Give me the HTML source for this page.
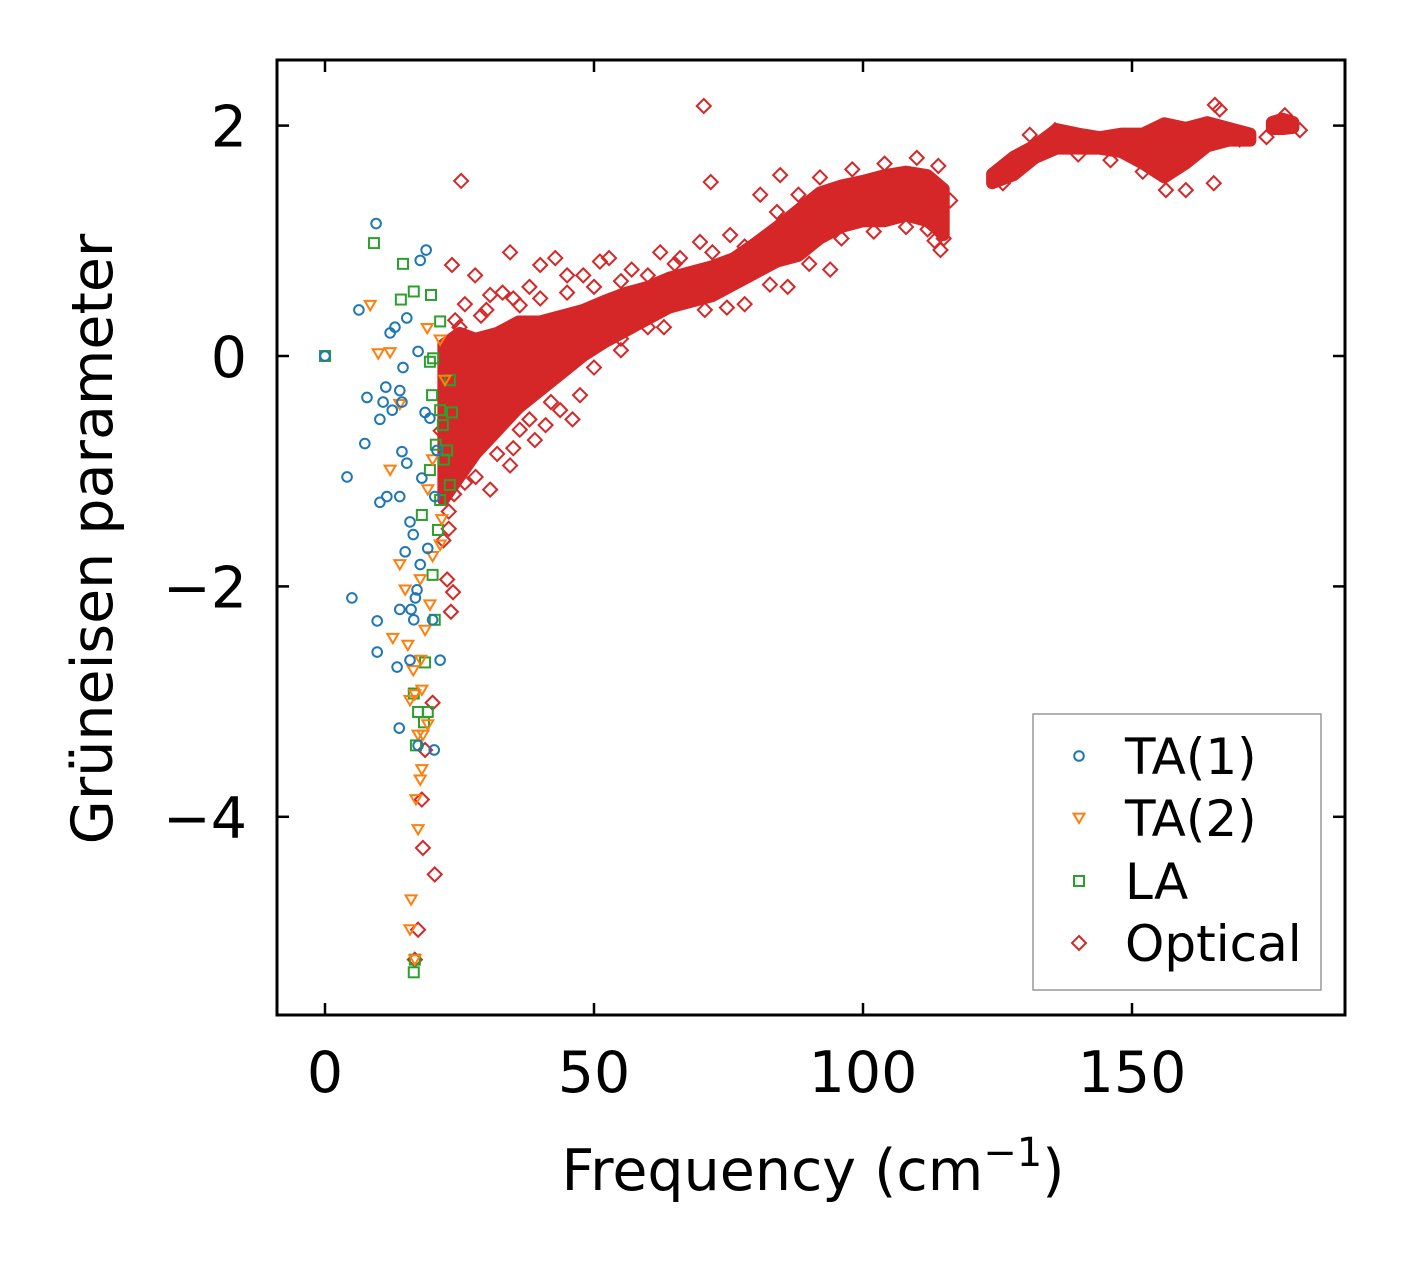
<!DOCTYPE html>
<html><head><meta charset="utf-8"><style>
body{margin:0;background:#fff;}
svg text{font-family:"DejaVu Sans","Liberation Sans",sans-serif;fill:#000;}
</style></head><body>
<svg id="chart" width="1406" height="1264" xmlns="http://www.w3.org/2000/svg">
<rect width="1406" height="1264" fill="#fff"/>
<g id="marks"></g>
<g id="axes"></g>
<text x="813" y="1190" font-size="57" text-anchor="middle">Frequency (cm<tspan font-size="40" dy="-24">−1</tspan><tspan dy="24">)</tspan></text>
<text transform="translate(112,539) rotate(-90)" font-size="57" text-anchor="middle">Grüneisen parameter</text>
<g>
<rect x="1033" y="714" width="288" height="276" fill="#fff" fill-opacity="0.8" stroke="#999" stroke-width="1.5"/>
<circle cx="1079" cy="756" r="4.8" fill="none" stroke="#1f77b4" stroke-width="2"/>
<text x="1125" y="774" font-size="50">TA(1)</text>
<path d="M1073.5,813.6L1084.5,813.6L1079,823Z" fill="none" stroke="#ff7f0e" stroke-width="2"/>
<text x="1125" y="836" font-size="50">TA(2)</text>
<rect x="1074" y="876" width="10" height="10" fill="none" stroke="#2ca02c" stroke-width="2"/>
<text x="1125" y="899" font-size="50">LA</text>
<path d="M1079,936L1086,943L1079,950L1072,943Z" fill="none" stroke="#d62728" stroke-width="2"/>
<text x="1125" y="961" font-size="50">Optical</text>
</g>
</svg>
<script>
const xTicks=[0,50,100,150];
const yTicks=[-4,-2,0,2];
const xTickLabels=["0","50","100","150"];
const yTickLabels=["\u22124","\u22122","0","2"];
const ta1=[[0,0],[6.3,0.4],[9.5,1.15],[7.8,-0.36],[7.4,-0.76],[4.1,-1.05],[5,-2.1],[9.7,-2.3],[9.7,-2.57],[10.2,-0.55],[10.8,-0.4],[11.3,-0.27],[10.2,-1.27],[11.5,-1.22],[12.1,0.2],[13,0.25],[12.5,-0.47],[13.9,-0.3],[14.3,-0.4],[14.5,-0.1],[15.2,0.33],[14.3,-0.83],[15.2,-0.93],[13.9,-1.22],[15.8,-1.44],[14.9,-1.7],[13.9,-2.2],[13.4,-2.7],[15.8,-2.64],[13.8,-3.23],[16.5,-2.29],[17.1,-2.03],[17.7,0.83],[18.8,0.92],[17.3,0.04],[18.6,-0.49],[19.5,-0.54],[18,-1.06],[19.1,-1.67],[20.4,-1.22],[21.4,-2.64],[20.3,-3.42],[17.3,-3.38],[20,-2.29],[16.4,-1.55],[17.7,-1.81],[20.8,-0.82],[16,-2.2],[16.8,-2.1]];
const ta2=[[8.4,0.44],[9.9,0.02],[12.1,0.03],[12.1,-0.99],[12.6,-2.45],[13.9,-1.81],[14.9,-2.03],[15.4,-2.51],[15.8,-2.99],[16.4,-2.73],[16.7,-2.94],[17.3,-3.29],[17.7,-3.68],[16.9,-3.85],[17.3,-4.11],[16,-4.72],[15.8,-4.98],[16.7,-5.24],[18,-3.59],[19.1,-3.2],[18,-2.9],[18.6,-2.38],[19.5,-2.16],[17.7,-1.94],[19.1,-1.16],[20,-0.9],[21.4,-1.64],[19,0.24],[21.4,0.14],[22.3,-0.21],[21.7,-1.42],[20,-1.74],[18.2,-3.29],[17.8,-2.64],[13.9,-0.42]];
const la=[[0,0],[9.1,0.98],[14.5,0.8],[14.1,0.49],[16.5,0.56],[19.7,0.53],[20.1,-0.02],[19.5,-0.05],[21.4,0.3],[19.9,-0.34],[21.4,-0.47],[23.2,-0.21],[23.6,-0.49],[21.9,-0.6],[20.6,-0.77],[22.1,-0.9],[19.5,-0.99],[18,-1.38],[21.4,-1.25],[21,-1.51],[20,-1.9],[18.6,-2.66],[20.4,-2.29],[17.3,-3.09],[19.1,-3.09],[18.4,-3.18],[16.9,-3.38],[16.5,-2.93],[16.7,-5.24],[16.5,-5.35],[22.7,-0.82],[23.2,-1.12]];
const optical=[[70.4,2.17],[25.3,1.52],[71.7,1.51],[165.2,1.5],[20.4,-4.5],[18.2,-4.27],[18,-3.85],[17.3,-4.98],[16.7,-5.24],[20,-3.01],[18.6,-3.42],[23.4,-2.22],[23.8,-2.05],[22.7,-1.94],[23.6,0.79],[27.9,0.7],[30.7,0.53],[34.4,0.9],[36.2,0.44],[40,0.79],[42.8,0.85],[51.1,0.82],[52.8,0.85],[62.3,0.9],[69.7,0.99],[84.6,1.57],[80.9,1.4],[75.3,1.05],[74.7,0.42],[82.7,0.62],[70.6,0.4],[30.7,-1.16],[34.4,-0.95],[39,-0.73],[36.2,-0.64],[47.4,-0.34],[43.7,-0.47],[27,-0.38],[32.5,-0.2],[28.8,0.14],[24.2,0.31],[114.4,0.92],[113.3,1.0],[116.2,1.35],[93.9,0.75],[135.7,1.96],[170,1.88],[179.4,2.0],[178.4,2.09],[181.2,1.96],[131,1.92],[160,1.44],[156.3,1.44],[165.4,2.18],[166.3,2.14],[21.5,-0.65],[22,-1.6],[23,-1.5],[26,0.45],[29,0.35],[33,0.55],[38,0.6],[45,0.7],[48,0.7],[57,0.75],[65,0.8],[78,0.45],[86,0.6],[90,0.8],[46,-0.55],[41,-0.6],[55,0.05],[63,0.25],[152,1.6],[146,1.7],[140,1.75],[126,1.5],[175,1.9],[23,-1.35],[24,-1.2],[26,-1.1],[28,-1.05],[32,-0.85],[35,-0.8],[38,-0.55],[42,-0.4],[50,-0.1],[55,0.15],[60,0.25],[25,0.25],[30,0.4],[35,0.5],[40,0.5],[45,0.55],[50,0.6],[55,0.65],[60,0.7],[66,0.85],[72,0.9],[78,0.95],[84,1.25],[88,1.4],[92,1.55],[98,1.62],[104,1.67],[110,1.72],[114,1.65],[96,1.02],[102,1.08],[108,1.12],[112,1.1],[115,1.02]];
// optical density envelopes: [freq, low, high]
const opticalBand1=[[22,-1.25,0.1],[25,-1.05,0.2],[28,-0.85,0.15],[32,-0.65,0.2],[36,-0.45,0.3],[40,-0.3,0.3],[44,-0.15,0.35],[48,0.0,0.4],[52,0.12,0.48],[56,0.22,0.55],[60,0.32,0.6],[64,0.42,0.68],[68,0.47,0.73],[72,0.52,0.78],[76,0.62,0.85],[80,0.72,0.98],[84,0.82,1.12],[88,0.87,1.27],[92,1.02,1.42],[96,1.12,1.48],[100,1.17,1.52],[104,1.17,1.57],[108,1.22,1.6],[112,1.17,1.57],[115,1.05,1.45]];
const opticalBand2=[[124,1.5,1.58],[128,1.57,1.73],[132,1.72,1.83],[136,1.8,1.97],[140,1.8,1.93],[144,1.8,1.9],[148,1.77,1.93],[152,1.67,1.93],[156,1.55,2.02],[160,1.67,1.98],[164,1.82,2.03],[168,1.87,1.98],[172,1.87,1.93]];
const opticalBand3=[[176,1.97,2.03],[178,1.97,2.06],[180,1.98,2.03]];

const L=277,R=1345,T=60,B=1015;
const xs=v=>325+v*5.38;
const ys=v=>356-v*115.2;
const NS="http://www.w3.org/2000/svg";
const marks=document.getElementById('marks');
const axes=document.getElementById('axes');
function mk(tag,attrs,parent){const e=document.createElementNS(NS,tag);for(const k in attrs)e.setAttribute(k,attrs[k]);parent.appendChild(e);return e;}
const RED="#d62728",BLUE="#1f77b4",ORANGE="#ff7f0e",GREEN="#2ca02c";

[opticalBand1,opticalBand2,opticalBand3].forEach((band)=>{
  const pts=band.map(d=>xs(d[0])+","+ys(d[2])).concat(band.slice().reverse().map(d=>xs(d[0])+","+ys(d[1])));
  const p=mk('polygon',{points:pts.join(" "),fill:RED,stroke:RED,'stroke-width':12,'stroke-linejoin':'round'},marks);
  
  
});
function diamond(x,y,s){return `M${x},${y-s}L${x+s},${y}L${x},${y+s}L${x-s},${y}Z`;}
function tri(x,y,s){return `M${x-s},${y-s*0.8}L${x+s},${y-s*0.8}L${x},${y+s*0.9}Z`;}
optical.forEach(d=>{
  const e=mk('path',{d:diamond(xs(d[0]),ys(d[1]),7),fill:'none',stroke:RED,'stroke-width':2},marks);
  
  
});
la.forEach(d=>{
  const e=mk('rect',{x:xs(d[0])-5,y:ys(d[1])-5,width:10,height:10,fill:'none',stroke:GREEN,'stroke-width':2},marks);
  
  
});
ta2.forEach(d=>{
  const e=mk('path',{d:tri(xs(d[0]),ys(d[1]),5.5),fill:'none',stroke:ORANGE,'stroke-width':2},marks);
  
  
});
ta1.forEach(d=>{
  const e=mk('circle',{cx:xs(d[0]),cy:ys(d[1]),r:4.8,fill:'none',stroke:BLUE,'stroke-width':2},marks);
  
  
});

const fr=mk('rect',{x:L,y:T,width:R-L,height:B-T,fill:'none',stroke:'#000','stroke-width':3},axes);


xTicks.forEach((v,i)=>{
  const x=xs(v);
  mk('line',{x1:x,y1:B,x2:x,y2:B-12,stroke:'#000','stroke-width':2.5},axes);
  mk('line',{x1:x,y1:T,x2:x,y2:T+12,stroke:'#000','stroke-width':2.5},axes);
  const t=mk('text',{x:x,y:1092,'font-size':57,'text-anchor':'middle'},axes);
  t.textContent=xTickLabels[i];
  
  
});
yTicks.forEach((v,i)=>{
  const y=ys(v);
  mk('line',{x1:L,y1:y,x2:L+12,y2:y,stroke:'#000','stroke-width':2.5},axes);
  mk('line',{x1:R,y1:y,x2:R-12,y2:y,stroke:'#000','stroke-width':2.5},axes);
  const t=mk('text',{x:247,y:y+21,'font-size':57,'text-anchor':'end'},axes);
  t.textContent=yTickLabels[i];
  
  
});
</script>
</body></html>
